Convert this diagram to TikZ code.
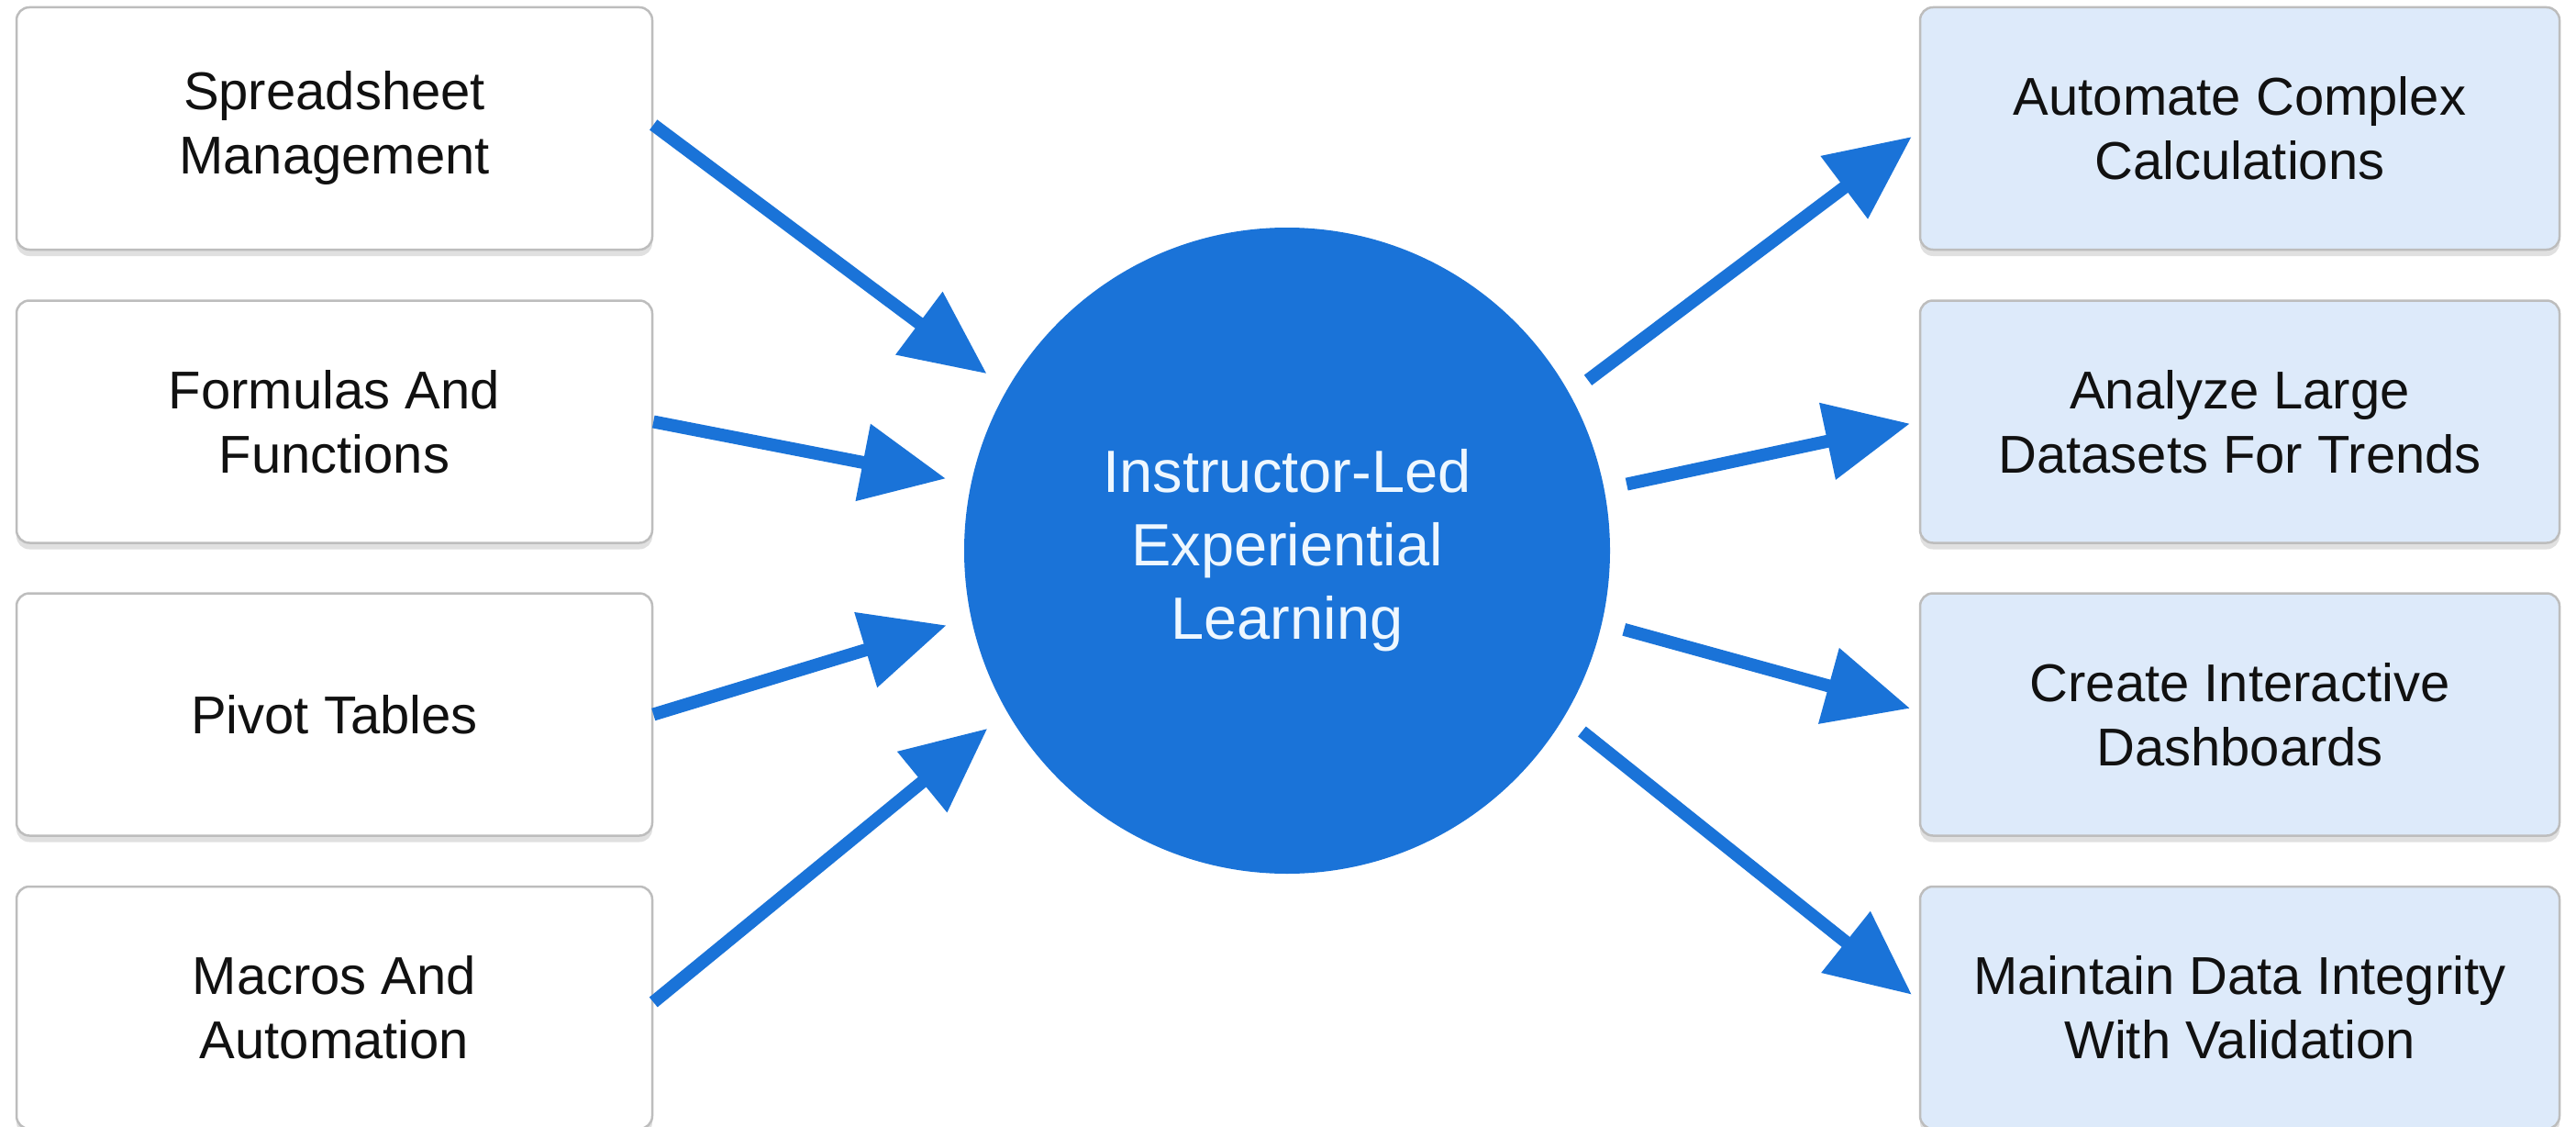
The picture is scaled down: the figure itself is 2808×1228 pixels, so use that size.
\documentclass[tikz,border=0pt]{standalone}
\usepackage{fontspec}
\setmainfont{Liberation Sans}
\usetikzlibrary{arrows.meta,shadows}
\definecolor{cblue}{HTML}{1A73D8}
\definecolor{rfill}{HTML}{DDEAFA}
\definecolor{bord}{HTML}{BDBDBD}
\definecolor{ctext}{HTML}{EEF7FF}
\definecolor{btext}{HTML}{111111}
\tikzset{
  box/.style={draw=bord, line width=2.5pt, rounded corners=14pt,
    minimum width=693pt, minimum height=264pt, align=center,
    font=\fontsize{58}{70}\selectfont, text=btext,
    drop shadow={shadow xshift=0pt, shadow yshift=-7pt, opacity=0.12, fill=black}},
  lbox/.style={box, fill=white},
  rbox/.style={box, fill=rfill, minimum width=697pt},
  hub/.style={circle, fill=cblue, minimum size=704pt, inner sep=0pt,
    text=ctext, align=center, font=\fontsize{65}{80}\selectfont},
  arr/.style={draw=cblue, line width=14pt, -{Triangle[length=92pt,width=82pt]}}
}
\begin{document}
\begin{tikzpicture}[x=1pt,y=-1pt]
\useasboundingbox (0,0) rectangle (2808,1228);
\fill[white] (0,0) rectangle (2808,1228);

\node[lbox] (L1) at (364.5,140) {Spreadsheet\\Management};
\node[lbox] (L2) at (364.5,459.5) {Formulas And\\Functions};
\node[lbox] (L3) at (364.5,778.5) {Pivot Tables};
\node[lbox] (L4) at (364.5,1098) {Macros And\\Automation};

\node[rbox] (R1) at (2441.5,140) {Automate Complex\\Calculations};
\node[rbox] (R2) at (2441.5,459.5) {Analyze Large\\Datasets For Trends};
\node[rbox] (R3) at (2441.5,778.5) {Create Interactive\\Dashboards};
\node[rbox] (R4) at (2441.5,1098) {Maintain Data Integrity\\With Validation};

\node[hub] (C) at (1403,600) {Instructor-Led\\Experiential\\Learning};

\draw[arr, shorten >=28pt] ([yshift=4pt]L1.east) -- (C.150);
\draw[arr, shorten >=28pt] (L2.east) -- (C.168.6);
\draw[arr, shorten >=28pt] (L3.east) -- (C.192);
\draw[arr, shorten >=28pt] ([yshift=6pt]L4.east) -- (C.210.9);

\draw[arr, shorten <=25pt, shorten >=10pt] (C.29.9) -- ([yshift=-3pt]R1.west);
\draw[arr, shorten <=25pt, shorten >=10pt] (C.11.3) -- (R2.west);
\draw[arr, shorten <=25pt, shorten >=10pt] (C.-13.1) -- ([yshift=4pt]R3.west);
\draw[arr, shorten <=25pt, shorten >=10pt] (C.-31.5) -- ([yshift=8pt]R4.west);
\end{tikzpicture}
\end{document}
